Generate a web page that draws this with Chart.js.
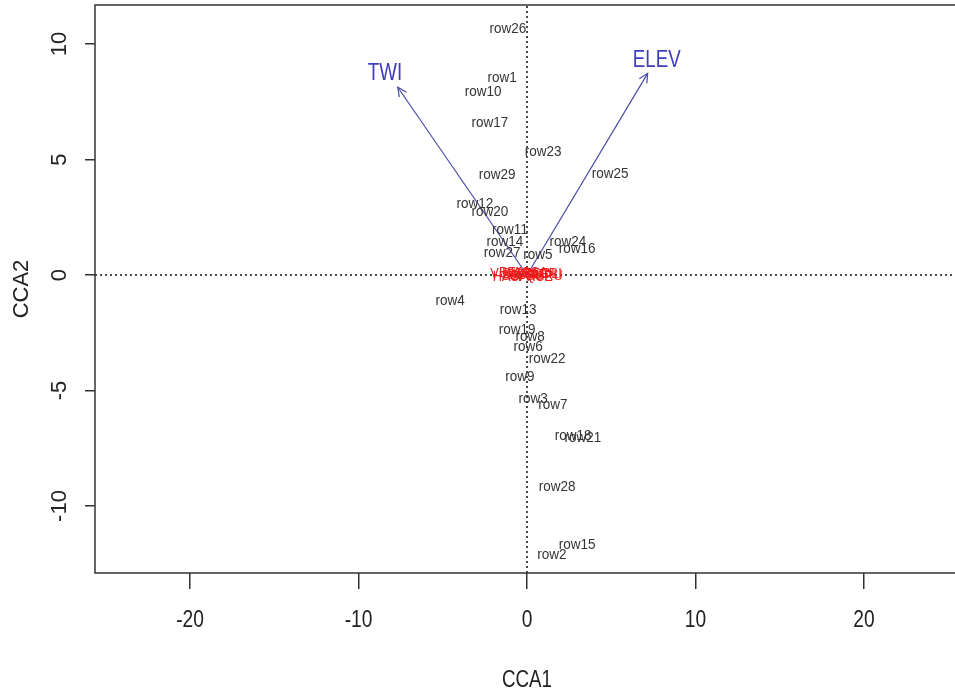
<!DOCTYPE html>
<html><head><meta charset="utf-8">
<script src="https://cdn.jsdelivr.net/npm/chart.js@4.4.1/dist/chart.umd.min.js"></script>
<style>html,body{margin:0;padding:0;background:#fff;overflow:hidden}canvas{display:block}</style>
</head><body>
<canvas id="c" width="955" height="694"></canvas>
<script>
// Site scores (row labels)
const siteLabels = ['row1','row2','row3','row4','row5','row6','row7','row8','row9','row10',
  'row11','row12','row13','row14','row15','row16','row17','row18','row19','row20',
  'row21','row22','row23','row24','row25','row26','row27','row28','row29'];
const siteCCA1 = [-1.48, 1.48, 0.36, -4.57, 0.65, 0.06, 1.54, 0.18, -0.42, -2.61,
  -1.01, -3.09, -0.53, -1.31, 2.97, 2.97, -2.20, 2.73, -0.59, -2.20,
  3.32, 1.19, 0.95, 2.43, 4.93, -1.13, -1.48, 1.78, -1.78];
const siteCCA2 = [8.53, -12.12, -5.37, -1.13, 0.87, -3.12, -5.63, -2.68, -4.42, 7.92,
  1.95, 3.07, -1.52, 1.43, -11.69, 1.13, 6.58, -6.97, -2.38, 2.73,
  -7.06, -3.64, 5.32, 1.43, 4.37, 10.65, 0.95, -9.18, 4.33];
// Species scores (red, clustered near origin)
const speciesLabels = ['VIBU','HASP','BEAL','SOAM','BETU','ACSA','PRSE','FAGR','QURU','SOLI'];
const speciesCCA1 = [-1.30, -1.00, -0.70, -0.40, -0.10, 0.20, 0.50, 0.80, 1.00, 1.20];
const speciesCCA2 = [0.05, -0.10, 0.10, -0.05, 0.00, 0.08, -0.08, 0.03, -0.03, 0.06];
// Environmental vectors (biplot arrows)
const envLabels = ['TWI', 'ELEV'];
const envCCA1 = [-7.67, 7.16];
const envCCA2 = [8.13, 8.73];
const envLabelCCA1 = [-8.43, 7.70];
const envLabelCCA2 = [8.75, 9.28];
// Axes
const xTicks = [-20, -10, 0, 10, 20];
const yTicks = [-10, -5, 0, 5, 10];
const xLimits = [-25.64, 25.4];
const yLimits = [-12.9, 11.69];
const axisTitles = ['CCA1', 'CCA2'];

const FONT = '"Liberation Sans", Arial, Helvetica, sans-serif';
function drawText(ctx, text, x, y, size, color, sx, rot) {
  ctx.save();
  ctx.translate(x, y);
  if (rot) ctx.rotate(rot);
  ctx.scale(sx, 1);
  ctx.font = size + 'px ' + FONT;
  ctx.fillStyle = color;
  ctx.textAlign = 'center';
  ctx.textBaseline = 'middle';
  ctx.fillText(text, 0, 0);
  ctx.restore();
}

const annot = {
  id: 'annot',
  afterDatasetsDraw(chart) {
    const ctx = chart.ctx, a = chart.chartArea;
    const xs = chart.scales.x, ys = chart.scales.y;
    // plot box (right side falls off the picture)
    ctx.save();
    ctx.strokeStyle = '#333';
    ctx.lineWidth = 1.5;
    ctx.beginPath();
    ctx.moveTo(a.right + 5, a.top);
    ctx.lineTo(a.left, a.top);
    ctx.lineTo(a.left, a.bottom);
    ctx.lineTo(a.right + 5, a.bottom);
    ctx.stroke();
    ctx.restore();
    // arrowheads
    [3, 4].forEach(di => {
      const pts = chart.getDatasetMeta(di).data;
      const p0 = pts[0], p1 = pts[1];
      const ang = Math.atan2(p1.y - p0.y, p1.x - p0.x);
      const L = 10, w = 0.45;
      ctx.save();
      ctx.strokeStyle = '#4b4ba8';
      ctx.lineWidth = 1.2;
      ctx.beginPath();
      ctx.moveTo(p1.x - L * Math.cos(ang - w), p1.y - L * Math.sin(ang - w));
      ctx.lineTo(p1.x, p1.y);
      ctx.lineTo(p1.x - L * Math.cos(ang + w), p1.y - L * Math.sin(ang + w));
      ctx.stroke();
      ctx.restore();
    });
    // species labels
    chart.getDatasetMeta(1).data.forEach((p, i) =>
      drawText(ctx, speciesLabels[i], p.x, p.y, 15, '#ee1c1c', 0.85));
    // site labels
    chart.getDatasetMeta(0).data.forEach((p, i) =>
      drawText(ctx, siteLabels[i], p.x, p.y, 15, '#333', 0.9));
    // env labels
    chart.getDatasetMeta(2).data.forEach((p, i) =>
      drawText(ctx, envLabels[i], p.x, p.y, 24, '#3c3cc0', 0.78));
    // tick labels
    xs.ticks.forEach(t => drawText(ctx, String(t.value), xs.getPixelForValue(t.value), 620, 24, '#222', 0.8));
    ys.ticks.forEach(t => drawText(ctx, String(t.value), 60, ys.getPixelForValue(t.value), 22, '#222', 1, -Math.PI / 2));
    // axis titles
    drawText(ctx, axisTitles[0], xs.getPixelForValue(0), 680, 24, '#222', 0.78);
    drawText(ctx, axisTitles[1], 22, (a.top + a.bottom) / 2, 22, '#222', 1, -Math.PI / 2);
  }
};

const pts = (xa, ya) => xa.map((x, i) => ({ x: x, y: ya[i] }));

new Chart(document.getElementById('c'), {
  type: 'scatter',
  data: {
    datasets: [
      { label: 'sites', data: pts(siteCCA1, siteCCA2), pointRadius: 0 },
      { label: 'species', data: pts(speciesCCA1, speciesCCA2), pointRadius: 0 },
      { label: 'envLabels', data: pts(envLabelCCA1, envLabelCCA2), pointRadius: 0 },
      { label: envLabels[0], data: [{ x: 0, y: 0 }, { x: envCCA1[0], y: envCCA2[0] }],
        showLine: true, borderColor: '#4b4ba8', borderWidth: 1.2, pointRadius: 0 },
      { label: envLabels[1], data: [{ x: 0, y: 0 }, { x: envCCA1[1], y: envCCA2[1] }],
        showLine: true, borderColor: '#4b4ba8', borderWidth: 1.2, pointRadius: 0 },
      { label: 'v0', data: [{ x: 0, y: yLimits[0] }, { x: 0, y: yLimits[1] }],
        showLine: true, borderColor: '#111', borderWidth: 1.5, borderDash: [2, 3], pointRadius: 0 },
      { label: 'h0', data: [{ x: xLimits[0], y: 0 }, { x: xLimits[1], y: 0 }],
        showLine: true, borderColor: '#111', borderWidth: 1.5, borderDash: [2, 3], pointRadius: 0 }
    ]
  },
  options: {
    responsive: false,
    animation: false,
    layout: { padding: { top: 5, right: 0, bottom: 0, left: 0 } },
    plugins: { legend: { display: false }, tooltip: { enabled: false } },
    scales: {
      x: {
        type: 'linear', min: xLimits[0], max: xLimits[1],
        afterBuildTicks: s => { s.ticks = xTicks.map(v => ({ value: v })); },
        afterFit: s => { s.height = 121; },
        ticks: { display: false },
        grid: { display: true, drawOnChartArea: false, drawTicks: true, tickLength: 16, color: '#333', lineWidth: 1.5 },
        border: { display: false }
      },
      y: {
        type: 'linear', min: yLimits[0], max: yLimits[1],
        afterBuildTicks: s => { s.ticks = yTicks.map(v => ({ value: v })); },
        afterFit: s => { s.width = 95; },
        ticks: { display: false },
        grid: { display: true, drawOnChartArea: false, drawTicks: true, tickLength: 10, color: '#333', lineWidth: 1.5 },
        border: { display: false }
      }
    }
  },
  plugins: [annot]
});
</script>
</body></html>
